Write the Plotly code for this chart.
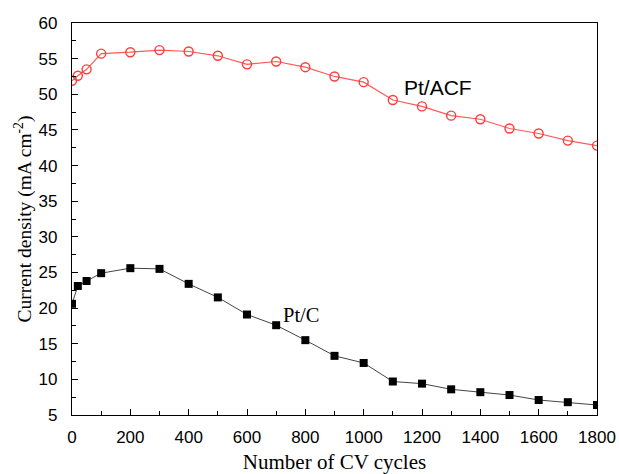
import plotly.graph_objects as go

cycles = [0, 20, 50, 100, 200, 300, 400, 500, 600, 700, 800, 900, 1000,
          1100, 1200, 1300, 1400, 1500, 1600, 1700, 1800]
pt_acf = [51.9, 52.6, 53.5, 55.7, 55.9, 56.2, 56.0, 55.4, 54.2, 54.6, 53.8,
          52.5, 51.7, 49.2, 48.3, 47.0, 46.5, 45.2, 44.5, 43.5, 42.8]
pt_c = [20.6, 23.1, 23.8, 24.9, 25.6, 25.5, 23.4, 21.5, 19.1, 17.6, 15.5,
        13.3, 12.3, 9.7, 9.4, 8.6, 8.2, 7.8, 7.1, 6.8, 6.4]
x_ticks = list(range(0, 1801, 200))
y_ticks = list(range(5, 61, 5))

fig = go.Figure()
fig.add_trace(go.Scatter(
    x=cycles, y=pt_acf, mode="lines+markers", name="Pt/ACF",
    line=dict(color="#FF5A5A", width=1.2),
    marker=dict(symbol="circle-open", size=9, color="#FF3B3B",
                line=dict(width=1.4, color="#FF3B3B")),
))
fig.add_trace(go.Scatter(
    x=cycles, y=pt_c, mode="lines+markers", name="Pt/C",
    line=dict(color="#444444", width=1),
    marker=dict(symbol="square", size=8, color="black"),
))

fig.add_annotation(x=1256, y=50.9, text="Pt/ACF", showarrow=False,
                   font=dict(family="Liberation Sans, Arial", size=21, color="black"))
fig.add_annotation(x=785, y=19.0, text="Pt/C", showarrow=False,
                   font=dict(family="Liberation Serif, Times New Roman", size=20.5, color="black"))

axis_common = dict(
    showgrid=False, zeroline=False, showline=True, linecolor="black",
    linewidth=1.3, mirror=True, ticks="inside", ticklen=6, tickwidth=1,
    tickcolor="black", automargin=False,
    tickfont=dict(family="Liberation Sans, Arial", size=17, color="black"),
)

fig.update_xaxes(
    range=[0, 1800], tickvals=x_ticks, ticktext=[str(v) for v in x_ticks],
    minor=dict(ticks="inside", ticklen=4, dtick=100, tickcolor="black"),
    ticklabelstandoff=6,
    title=dict(text="Number of CV cycles", standoff=8,
               font=dict(family="Liberation Serif, Times New Roman", size=21, color="black")),
    **axis_common,
)
fig.update_yaxes(
    range=[5, 60], tickvals=y_ticks, ticktext=[str(v) for v in y_ticks],
    minor=dict(ticks="inside", ticklen=4, dtick=2.5, tick0=5, tickcolor="black"),
    ticklabelstandoff=10,
    title=dict(text="Current density (mA cm<sup>-2</sup>)", standoff=1,
               font=dict(family="Liberation Serif, Times New Roman", size=19.5, color="black")),
    **axis_common,
)

fig.update_layout(
    width=619, height=474,
    margin=dict(l=72, r=22, t=23, b=59),
    paper_bgcolor="white", plot_bgcolor="white",
    showlegend=False,
)

fig.write_html("out.html", config={"displayModeBar": False},
               post_script="document.body.style.margin='0px';document.body.style.overflow='hidden';")
